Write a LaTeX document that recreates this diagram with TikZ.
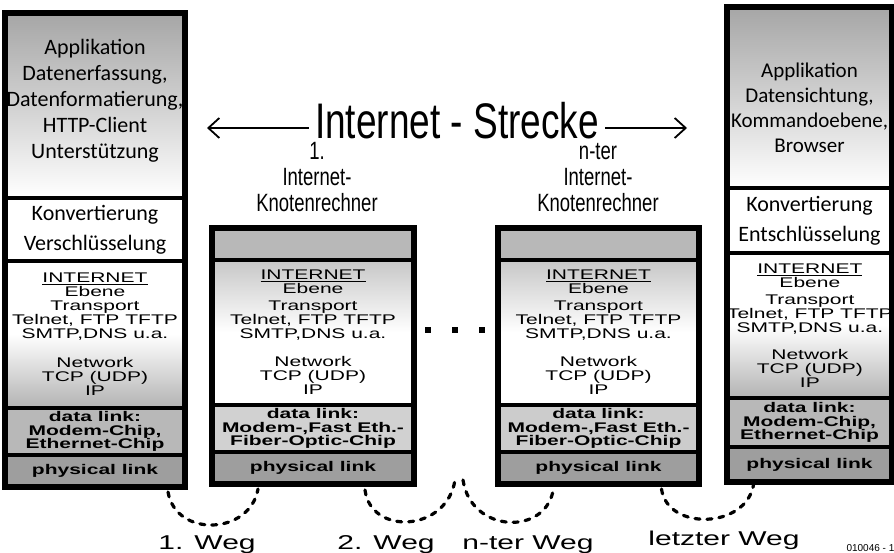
\documentclass[tikz,border=0pt]{standalone}
\usepackage{fontspec}
\setmainfont{Liberation Sans}
\newfontfamily\calfont{Carlito}
\newfontfamily\widefont[FakeStretch=1.5]{Liberation Sans}
\newfontfamily\narrowfont[FakeStretch=0.74]{Liberation Sans}
\usetikzlibrary{arrows.meta}

\tikzset{
layer/.style={draw, line width=3.5pt, anchor=north west, outer sep=0pt, inner sep=0pt,
  align=center, font=\widefont\fontsize{14}{14}\selectfont},
frame/.style={line width=6pt},
apptext/.style={align=center, font=\calfont\fontsize{22}{26}\selectfont},
konv/.style={font=\calfont\fontsize{22}{30}\selectfont},
datalink/.style={fill=black!28, font=\widefont\bfseries\fontsize{14}{13.5}\selectfont},
link/.style={fill=black!38, font=\widefont\bfseries\fontsize{14}{14}\selectfont},
knoten/.style={align=center, font=\narrowfont\fontsize{25}{26}\selectfont},
weg/.style={line width=3.2pt, dash pattern=on 5pt off 7pt, line cap=round},
wegtext/.style={anchor=base, font=\widefont\fontsize{20}{20}\selectfont},
pfeil/.style={line width=1.8pt, -{Straight Barb[length=11pt,width=20pt]}}
}

\begin{document}
\begin{tikzpicture}[x=1pt, y=-1pt]
\path[use as bounding box, fill=white] (0,0) rectangle (894,553);

% linker Rechner
\node[layer, minimum width=180pt, minimum height=185pt, top color=black!35, bottom color=white, middle color=black!18] (Lapp) at (5,13) {};
\node[apptext] (LappT) at ([yshift=5pt]Lapp.center) {Applikation\\Datenerfassung,\\Datenformatierung,\\HTTP-Client\\Unterstützung};
\node[layer, konv, minimum width=180pt, minimum height=63pt] (Lkonv) at (Lapp.south west) {Konvertierung\\Verschlüsselung};
\node[layer, minimum width=180pt, minimum height=147pt, top color=white, bottom color=black!30, middle color=white] (Lnet) at (Lkonv.south west)
  {\underline{INTERNET}\\Ebene\\Transport\\Telnet, FTP TFTP\\SMTP,DNS u.a.\\[15pt]Network\\TCP (UDP)\\IP};
\node[layer, datalink, minimum width=180pt, minimum height=47pt] (Ldata) at (Lnet.south west) {data link:\\Modem-Chip,\\Ethernet-Chip};
\node[layer, link, minimum width=180pt, minimum height=32pt] (Lphys) at (Ldata.south west) {physical link};
\draw[frame] (Lapp.north west) rectangle (Lphys.south east);

% 1. Knotenrechner
\node[layer, minimum width=202pt, minimum height=32pt, fill=black!28] (Atop) at (212,228) {};
\node[layer, minimum width=202pt, minimum height=145pt, top color=black!22, bottom color=white, middle color=white] (Anet) at (Atop.south west)
  {\underline{INTERNET}\\Ebene\\[3pt]Transport\\Telnet, FTP TFTP\\SMTP,DNS u.a.\\[14pt]Network\\TCP (UDP)\\IP};
\node[layer, datalink, fill=black!18, minimum width=202pt, minimum height=47pt] (Adata) at (Anet.south west) {data link:\\Modem-,Fast Eth.-\\Fiber-Optic-Chip};
\node[layer, link, minimum width=202pt, minimum height=32pt] (Aphys) at (Adata.south west) {physical link};
\draw[frame] (Atop.north west) rectangle (Aphys.south east);

% n-ter Knotenrechner
\node[layer, minimum width=201pt, minimum height=32pt, fill=black!28] (Btop) at (498,228) {};
\node[layer, minimum width=201pt, minimum height=145pt, top color=black!22, bottom color=white, middle color=white] (Bnet) at (Btop.south west)
  {\underline{INTERNET}\\Ebene\\[3pt]Transport\\Telnet, FTP TFTP\\SMTP,DNS u.a.\\[14pt]Network\\TCP (UDP)\\IP};
\node[layer, datalink, fill=black!20, minimum width=201pt, minimum height=47pt] (Bdata) at (Bnet.south west) {data link:\\Modem-,Fast Eth.-\\Fiber-Optic-Chip};
\node[layer, link, minimum width=201pt, minimum height=32pt] (Bphys) at (Bdata.south west) {physical link};
\draw[frame] (Btop.north west) rectangle (Bphys.south east);

% rechter Rechner
\node[layer, minimum width=165pt, minimum height=181pt, top color=black!35, bottom color=white, middle color=black!18] (Rapp) at (727,7) {};
\node[apptext, font=\calfont\fontsize{21}{25}\selectfont] (RappT) at ([yshift=-10pt]Rapp.center) {Applikation\\Datensichtung,\\Kommandoebene,\\Browser};
\node[layer, konv, minimum width=165pt, minimum height=65pt] (Rkonv) at (Rapp.south west) {Konvertierung\\Entschlüsselung};
\node[layer, minimum width=165pt, minimum height=145pt, top color=white, bottom color=black!30, middle color=white] (Rnet) at (Rkonv.south west)
  {\underline{INTERNET}\\Ebene\\[3pt]Transport\\Telnet, FTP TFTP\\SMTP,DNS u.a.\\[13pt]Network\\TCP (UDP)\\IP};
\node[layer, datalink, minimum width=165pt, minimum height=49pt] (Rdata) at (Rnet.south west) {data link:\\Modem-Chip,\\Ethernet-Chip};
\node[layer, link, minimum width=165pt, minimum height=35pt] (Rphys) at (Rdata.south west) {physical link};
\draw[frame] (Rapp.north west) rectangle (Rphys.south east);

% Strecke
\node[inner xsep=6pt, inner ysep=0pt, font=\narrowfont\fontsize{50}{50}\selectfont] (strecke) at (457,121) {Internet - Strecke};
\coordinate (sl) at (207,128);
\coordinate (sr) at (687,128);
\draw[pfeil] (strecke.west |- sl) -- (sl);
\draw[pfeil] (strecke.east |- sr) -- (sr);

\node[knoten] (k1) at (317,177) {1.\\Internet-\\Knotenrechner};
\node[knoten] (k2) at (598,178) {n-ter\\Internet-\\Knotenrechner};

\foreach \x in {428,455,482}
  \fill (\x-3,327) rectangle +(6,6);

% Wege
\coordinate (m1) at (455,480);
\coordinate (m2) at (463,480);
\draw[weg] ([xshift=73pt,yshift=-5pt]Lphys.south) .. controls +(8,46) and +(-8,46) .. ([xshift=-55pt,yshift=-5pt]Aphys.south);
\draw[weg] ([xshift=52pt,yshift=-6pt]Aphys.south) .. controls +(6,46) and +(-8,52) .. (m1);
\draw[weg] (m2) .. controls +(8,54) and +(-6,48) .. ([xshift=-45pt,yshift=-4pt]Bphys.south);
\draw[weg] ([xshift=63pt,yshift=-5pt]Bphys.south) .. controls +(6,42) and +(-8,44) .. ([xshift=-56pt,yshift=-3pt]Rphys.south);

\node[wegtext] (w1) at (207,549) {1. Weg};
\node[wegtext] (w2) at (386,549) {2. Weg};
\node[wegtext] (w3) at (528,549) {n-ter Weg};
\node[wegtext] (w4) at (724,545) {letzter Weg};
\node[anchor=base west, font=\fontsize{10}{10}\selectfont] (nr) at (843,551) {010046 - 11};
\end{tikzpicture}
\end{document}
